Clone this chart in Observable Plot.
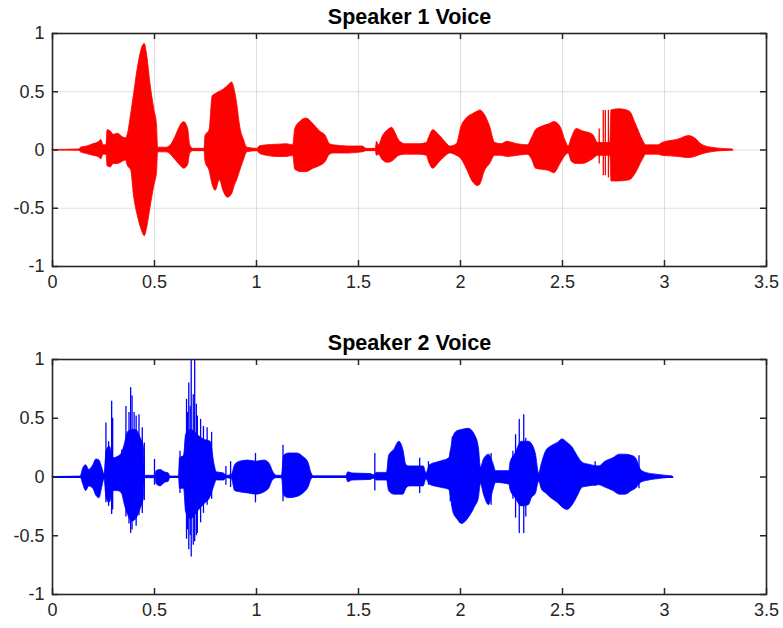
<!DOCTYPE html>
<html>
<head>
<meta charset="utf-8">
<script src="https://cdn.jsdelivr.net/npm/d3@7"></script>
<script src="https://cdn.jsdelivr.net/npm/@observablehq/plot@0.6"></script>
<style>
  body { margin: 0; background: #fff; }
  #wrap { position: relative; width: 783px; height: 628px; overflow: hidden; }
  #wrap svg { display: block; }
</style>
</head>
<body>
<div id="wrap"></div>
<script>
// Axis ticks shared by both panels
const xTicks = [0, 0.5, 1, 1.5, 2, 2.5, 3, 3.5];
const yTicks = [-1, -0.5, 0, 0.5, 1];
const titles = ["Speaker 1 Voice", "Speaker 2 Voice"];

// Speaker 1: amplitude envelope (time in s, upper and lower peaks)
const s1Time  = [0, 0.13, 0.14, 0.17, 0.20, 0.225, 0.24, 0.25, 0.265, 0.27, 0.285, 0.30, 0.32, 0.345, 0.36, 0.37, 0.385, 0.40, 0.42, 0.44, 0.452, 0.465, 0.48, 0.50, 0.512, 0.518, 0.56, 0.58, 0.60, 0.625, 0.645, 0.665, 0.675, 0.69, 0.745, 0.75, 0.77, 0.785, 0.80, 0.82, 0.84, 0.86, 0.88, 0.895, 0.905, 0.92, 0.94, 0.955, 1.005, 1.015, 1.05, 1.10, 1.15, 1.18, 1.19, 1.22, 1.245, 1.28, 1.31, 1.34, 1.36, 1.38, 1.45, 1.52, 1.54, 1.585, 1.59, 1.60, 1.62, 1.645, 1.665, 1.68, 1.70, 1.73, 1.80, 1.835, 1.845, 1.866, 1.90, 1.93, 1.95, 1.982, 2.005, 2.03, 2.063, 2.085, 2.096, 2.12, 2.145, 2.17, 2.20, 2.23, 2.28, 2.33, 2.35, 2.37, 2.40, 2.435, 2.46, 2.49, 2.515, 2.53, 2.545, 2.57, 2.60, 2.65, 2.675, 2.735, 2.74, 2.78, 2.83, 2.86, 2.895, 2.91, 2.97, 2.99, 3.07, 3.12, 3.15, 3.18, 3.23, 3.335];
const s1Upper = [0, 0.005, 0.02, 0.03, 0.05, 0.065, 0.085, 0.04, 0.04, 0.17, 0.16, 0.13, 0.14, 0.11, 0.10, 0.14, 0.30, 0.48, 0.72, 0.88, 0.91, 0.80, 0.57, 0.34, 0.22, 0.02, 0.02, 0.04, 0.10, 0.20, 0.24, 0.18, 0.04, 0.01, 0.01, 0.12, 0.17, 0.46, 0.48, 0.50, 0.52, 0.55, 0.58, 0.50, 0.40, 0.20, 0.08, 0.02, 0.01, 0.03, 0.04, 0.045, 0.05, 0.04, 0.18, 0.25, 0.27, 0.22, 0.16, 0.12, 0.05, 0.04, 0.03, 0.03, 0.01, 0.01, 0.07, 0.04, 0.12, 0.17, 0.19, 0.15, 0.08, 0.05, 0.05, 0.06, 0.10, 0.17, 0.12, 0.06, 0.03, 0.05, 0.20, 0.27, 0.31, 0.33, 0.34, 0.30, 0.20, 0.06, 0.05, 0.07, 0.05, 0.04, 0.10, 0.17, 0.20, 0.22, 0.24, 0.20, 0.08, 0.03, 0.10, 0.18, 0.16, 0.13, 0.06, 0.06, 0.34, 0.35, 0.33, 0.22, 0.08, 0.04, 0.04, 0.06, 0.09, 0.12, 0.10, 0.05, 0.02, 0.005];
const s1Lower = [0, -0.005, -0.02, -0.035, -0.05, -0.06, -0.08, -0.04, -0.04, -0.14, -0.15, -0.12, -0.12, -0.10, -0.09, -0.14, -0.17, -0.40, -0.58, -0.70, -0.74, -0.66, -0.50, -0.30, -0.20, -0.02, -0.02, -0.04, -0.08, -0.13, -0.16, -0.13, -0.03, -0.01, -0.01, -0.10, -0.18, -0.30, -0.35, -0.26, -0.36, -0.41, -0.38, -0.30, -0.26, -0.18, -0.08, -0.02, -0.01, -0.03, -0.05, -0.06, -0.06, -0.05, -0.17, -0.19, -0.19, -0.16, -0.14, -0.10, -0.04, -0.03, -0.03, -0.02, -0.01, -0.01, -0.05, -0.04, -0.09, -0.11, -0.10, -0.08, -0.05, -0.04, -0.04, -0.05, -0.10, -0.16, -0.10, -0.05, -0.03, -0.05, -0.08, -0.16, -0.28, -0.31, -0.30, -0.18, -0.12, -0.05, -0.05, -0.06, -0.05, -0.04, -0.08, -0.16, -0.17, -0.18, -0.20, -0.12, -0.05, -0.03, -0.10, -0.12, -0.12, -0.08, -0.05, -0.05, -0.27, -0.27, -0.26, -0.20, -0.08, -0.04, -0.04, -0.05, -0.06, -0.07, -0.06, -0.04, -0.02, -0.005];
// Speaker 1: isolated clicks
const s1SpikeTime  = [2.68, 2.70, 2.71, 2.725];
const s1SpikeUpper = [0.18, 0.34, 0.34, 0.34];
const s1SpikeLower = [-0.12, -0.22, -0.22, -0.24];
const s1Duration = 3.34;

// Speaker 2: amplitude envelope
const s2Time  = [0, 0.138, 0.15, 0.165, 0.18, 0.20, 0.215, 0.23, 0.245, 0.255, 0.265, 0.28, 0.30, 0.32, 0.34, 0.355, 0.37, 0.39, 0.41, 0.43, 0.448, 0.453, 0.505, 0.51, 0.53, 0.55, 0.57, 0.578, 0.62, 0.625, 0.645, 0.655, 0.68, 0.71, 0.74, 0.775, 0.795, 0.805, 0.84, 0.855, 0.88, 0.895, 0.92, 0.96, 1.00, 1.04, 1.065, 1.08, 1.10, 1.125, 1.135, 1.16, 1.20, 1.23, 1.255, 1.27, 1.28, 1.44, 1.45, 1.47, 1.56, 1.575, 1.59, 1.64, 1.65, 1.675, 1.70, 1.72, 1.735, 1.75, 1.82, 1.833, 1.85, 1.90, 1.945, 1.965, 1.985, 2.007, 2.04, 2.07, 2.09, 2.10, 2.115, 2.14, 2.16, 2.175, 2.24, 2.245, 2.27, 2.30, 2.335, 2.35, 2.37, 2.385, 2.40, 2.42, 2.445, 2.477, 2.50, 2.525, 2.55, 2.57, 2.60, 2.63, 2.68, 2.71, 2.75, 2.78, 2.81, 2.84, 2.86, 2.885, 2.91, 2.96, 3.04];
const s2Upper = [0, 0.004, 0.07, 0.10, 0.06, 0.10, 0.15, 0.14, 0.07, 0.02, 0.22, 0.26, 0.16, 0.17, 0.20, 0.28, 0.38, 0.40, 0.40, 0.34, 0.25, 0.01, 0.01, 0.05, 0.06, 0.04, 0.03, 0.004, 0.004, 0.16, 0.18, 0.36, 0.40, 0.36, 0.32, 0.30, 0.10, 0.04, 0.03, 0.01, 0.02, 0.10, 0.13, 0.14, 0.13, 0.14, 0.11, 0.05, 0.01, 0.01, 0.18, 0.20, 0.20, 0.17, 0.12, 0.03, 0.006, 0.006, 0.04, 0.03, 0.025, 0.015, 0.035, 0.035, 0.18, 0.23, 0.30, 0.23, 0.10, 0.09, 0.09, 0.03, 0.10, 0.13, 0.16, 0.34, 0.39, 0.40, 0.41, 0.36, 0.25, 0.08, 0.15, 0.19, 0.12, 0.05, 0.05, 0.12, 0.20, 0.30, 0.30, 0.28, 0.19, 0.03, 0.12, 0.22, 0.26, 0.29, 0.32, 0.29, 0.25, 0.19, 0.12, 0.105, 0.09, 0.13, 0.16, 0.19, 0.19, 0.18, 0.16, 0.06, 0.035, 0.02, 0.005];
const s2Lower = [0, -0.004, -0.06, -0.12, -0.08, -0.10, -0.16, -0.18, -0.08, -0.02, -0.18, -0.22, -0.12, -0.12, -0.14, -0.24, -0.32, -0.38, -0.36, -0.28, -0.18, -0.01, -0.01, -0.06, -0.08, -0.05, -0.04, -0.004, -0.004, -0.10, -0.10, -0.30, -0.36, -0.30, -0.24, -0.17, -0.07, -0.03, -0.03, -0.01, -0.02, -0.12, -0.13, -0.14, -0.15, -0.13, -0.09, -0.03, -0.01, -0.01, -0.16, -0.18, -0.17, -0.14, -0.09, -0.02, -0.006, -0.006, -0.045, -0.03, -0.025, -0.015, -0.03, -0.03, -0.12, -0.15, -0.15, -0.15, -0.10, -0.08, -0.08, -0.02, -0.065, -0.09, -0.11, -0.30, -0.36, -0.40, -0.35, -0.26, -0.18, -0.06, -0.15, -0.24, -0.12, -0.05, -0.065, -0.11, -0.18, -0.25, -0.24, -0.18, -0.14, -0.04, -0.11, -0.14, -0.18, -0.22, -0.26, -0.28, -0.24, -0.18, -0.09, -0.08, -0.07, -0.09, -0.12, -0.15, -0.15, -0.12, -0.10, -0.05, -0.035, -0.02, -0.005];
// Speaker 2: individual peaks that rise above the envelope
const s2SpikeTime  = [0.262, 0.275, 0.29, 0.295, 0.34, 0.36, 0.375, 0.383, 0.39, 0.40, 0.41, 0.424, 0.44, 0.45, 0.50, 0.625, 0.657, 0.662, 0.668, 0.675, 0.68, 0.69, 0.697, 0.705, 0.71, 0.726, 0.74, 0.758, 0.78, 0.85, 0.873, 0.995, 1.13, 1.58, 1.80, 1.843, 1.95, 1.96, 2.15, 2.257, 2.27, 2.288, 2.31, 2.32, 2.66, 2.875];
const s2SpikeUpper = [0.46, 0.30, 0.645, 0.50, 0.23, 0.60, 0.55, 0.76, 0.69, 0.55, 0.52, 0.53, 0.42, 0.29, 0.15, 0.22, 0.66, 0.55, 0.80, 0.60, 1.0, 0.70, 1.0, 0.62, 0.52, 0.49, 0.43, 0.42, 0.38, 0.09, 0.13, 0.20, 0.27, 0.20, 0.16, 0.13, 0.22, 0.34, 0.20, 0.22, 0.36, 0.49, 0.53, 0.33, 0.13, 0.18];
const s2SpikeLower = [-0.22, -0.25, -0.32, -0.28, -0.13, -0.34, -0.40, -0.48, -0.45, -0.37, -0.42, -0.33, -0.31, -0.20, -0.07, -0.14, -0.53, -0.45, -0.62, -0.50, -0.68, -0.58, -0.55, -0.50, -0.48, -0.39, -0.31, -0.24, -0.19, -0.07, -0.09, -0.22, -0.21, -0.12, -0.14, -0.07, -0.21, -0.25, -0.24, -0.19, -0.35, -0.48, -0.48, -0.34, -0.08, -0.10];
const s2Duration = 3.045;

const rows = (t, hi, lo) => t.map((d, i) => ({t: d, hi: hi[i], lo: lo[i]}));

function panel({title, env, spikes, duration, color, grid, height, marginTop, baseWidth}) {
  const width = 783, marginLeft = 52, marginRight = 17, marginBottom = 34;
  const innerW = width - marginLeft - marginRight;
  const innerH = height - marginTop - marginBottom;
  const [x0, x1] = [xTicks[0], xTicks[xTicks.length - 1]];
  const [y0, y1] = [yTicks[0], yTicks[yTicks.length - 1]];
  // inward tick length, 6px expressed in data units
  const tx = 6 * (x1 - x0) / innerW;
  const ty = 6 * (y1 - y0) / innerH;
  const ink = "#262626";
  const fmt = d => String(d);
  return Plot.plot({
    width, height, marginTop, marginLeft, marginRight, marginBottom,
    style: {fontFamily: "'Liberation Sans', Arial, Helvetica, sans-serif", fontSize: "18px", background: "transparent", overflow: "visible"},
    x: {domain: [x0, x1]},
    y: {domain: [y0, y1]},
    marks: [
      grid ? Plot.gridX(xTicks, {stroke: ink, strokeOpacity: 0.15, strokeWidth: 1}) : null,
      grid ? Plot.gridY(yTicks, {stroke: ink, strokeOpacity: 0.15, strokeWidth: 1}) : null,
      Plot.ruleY([0], {x1: 0, x2: duration, stroke: color, strokeWidth: baseWidth}),
      Plot.areaY(env, {x: "t", y1: "lo", y2: "hi", fill: color, stroke: color, strokeWidth: 0.8, curve: "monotone-x"}),
      Plot.ruleX(spikes, {x: "t", y1: "lo", y2: "hi", stroke: color, strokeWidth: 1.3}),
      Plot.ruleX(xTicks, {x: d => d, y1: y0, y2: y0 + ty, stroke: ink, strokeWidth: 1.5}),
      Plot.ruleX(xTicks, {x: d => d, y1: y1, y2: y1 - ty, stroke: ink, strokeWidth: 1.5}),
      Plot.ruleY(yTicks, {y: d => d, x1: x0, x2: x0 + tx, stroke: ink, strokeWidth: 1.5}),
      Plot.ruleY(yTicks, {y: d => d, x1: x1, x2: x1 - tx, stroke: ink, strokeWidth: 1.5}),
      Plot.frame({stroke: ink, strokeWidth: 1.6}),
      Plot.axisX(xTicks, {tickSize: 0, tickPadding: 9, tickFormat: fmt, fill: ink, fontSize: 18, label: null}),
      Plot.axisY(yTicks, {tickSize: 0, tickPadding: 8, tickFormat: fmt, fill: ink, fontSize: 18, label: null}),
      Plot.text([title], {frameAnchor: "top", lineAnchor: "middle", dy: -16, fontWeight: "bold", fontSize: 21.5, fill: "#000"})
    ]
  });
}

const wrap = document.getElementById("wrap");
wrap.append(panel({
  title: titles[0],
  env: rows(s1Time, s1Upper, s1Lower),
  spikes: rows(s1SpikeTime, s1SpikeUpper, s1SpikeLower),
  duration: s1Duration, color: "#ff0000", grid: true,
  height: 300, marginTop: 33, baseWidth: 1
}));
wrap.append(panel({
  title: titles[1],
  env: rows(s2Time, s2Upper, s2Lower),
  spikes: rows(s2SpikeTime, s2SpikeUpper, s2SpikeLower),
  duration: s2Duration, color: "#0000ff", grid: false,
  height: 328, marginTop: 59, baseWidth: 2
}));
</script>
</body>
</html>
